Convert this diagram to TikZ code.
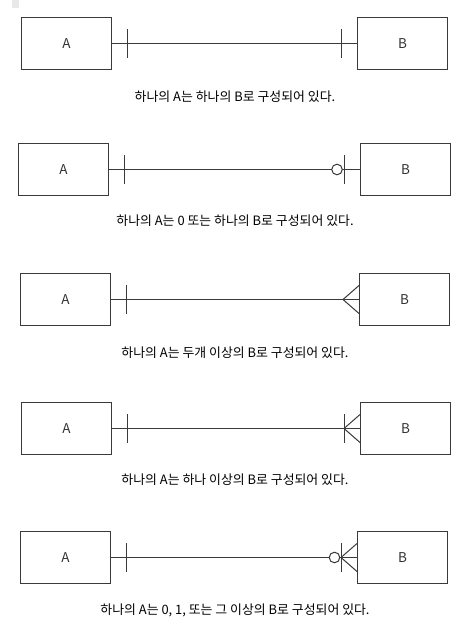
\documentclass[tikz,border=0pt]{standalone}
\usepackage{fontspec}
\setmainfont{Noto Sans CJK KR}
\definecolor{linegray}{HTML}{3A3A3A}
\definecolor{textgray}{HTML}{333333}
\begin{document}
\begin{tikzpicture}[x=1pt,y=-1pt,
  ent/.style={draw=linegray,line width=1pt,minimum width=90pt,minimum height=52pt,inner sep=0pt,font=\fontsize{13.5}{15}\selectfont,text=textgray},
  rel/.style={draw=linegray,line width=1pt},
  opt/.style={circle,draw=linegray,line width=1pt,fill=white,minimum size=10.6pt,inner sep=0pt},
  lbl/.style={font=\fontsize{12.9}{15}\selectfont,text=black,inner sep=0pt}]
\useasboundingbox (0,0) rectangle (475,631);
\fill[gray!18] (12,0) rectangle (19,8);
% Row 1: one to one
\node[ent] (a1) at (66.5,43.5) {A};
\node[ent] (b1) at (402.5,43.5) {B};
\draw[rel] (a1.east) -- (b1.west);
\coordinate (ta1) at ([xshift=15pt]a1.east);
\coordinate (tb1) at ([xshift=-16pt]b1.west);
\draw[rel] ([yshift=14.5pt]ta1) -- ([yshift=-14.5pt]ta1);
\draw[rel] ([yshift=14.5pt]tb1) -- ([yshift=-14.5pt]tb1);
\node[lbl] (l1) at (235,97) {하나의 A는 하나의 B로 구성되어 있다.};
% Row 2: zero or one
\node[ent] (a2) at (63.5,169.5) {A};
\node[ent] (b2) at (405.5,169.5) {B};
\draw[rel] (a2.east) -- (b2.west);
\coordinate (ta2) at ([xshift=15pt]a2.east);
\coordinate (tb2) at ([xshift=-16pt]b2.west);
\draw[rel] ([yshift=14.5pt]ta2) -- ([yshift=-14.5pt]ta2);
\draw[rel] ([yshift=14.5pt]tb2) -- ([yshift=-14.5pt]tb2);
\node[opt] (o2) at ([xshift=-23pt]b2.west) {};
\node[lbl] (l2) at (235,221) {하나의 A는 0 또는 하나의 B로 구성되어 있다.};
% Row 3: many
\node[ent] (a3) at (65.5,299.5) {A};
\node[ent] (b3) at (404.5,299.5) {B};
\draw[rel] (a3.east) -- (b3.west);
\coordinate (ta3) at ([xshift=15pt]a3.east);
\coordinate (cb3) at ([xshift=-16pt]b3.west);
\draw[rel] ([yshift=14.5pt]ta3) -- ([yshift=-14.5pt]ta3);
\draw[rel] ([yshift=14pt]b3.west) -- (cb3) -- ([yshift=-14pt]b3.west);
\node[lbl] (l3) at (235,353) {하나의 A는 두개 이상의 B로 구성되어 있다.};
% Row 4: one or many
\node[ent] (a4) at (66.5,428.5) {A};
\node[ent] (b4) at (405.5,428.5) {B};
\draw[rel] (a4.east) -- (b4.west);
\coordinate (ta4) at ([xshift=15pt]a4.east);
\coordinate (cb4) at ([xshift=-16pt]b4.west);
\draw[rel] ([yshift=14.5pt]ta4) -- ([yshift=-14.5pt]ta4);
\draw[rel] ([yshift=14.5pt]cb4) -- ([yshift=-14.5pt]cb4);
\draw[rel] ([yshift=14pt]b4.west) -- (cb4) -- ([yshift=-14pt]b4.west);
\node[lbl] (l4) at (235,480) {하나의 A는 하나 이상의 B로 구성되어 있다.};
% Row 5: zero or many
\node[ent] (a5) at (65.5,557.5) {A};
\node[ent] (b5) at (402.5,557.5) {B};
\draw[rel] (a5.east) -- (b5.west);
\coordinate (ta5) at ([xshift=15pt]a5.east);
\coordinate (cb5) at ([xshift=-16pt]b5.west);
\draw[rel] ([yshift=14.5pt]ta5) -- ([yshift=-14.5pt]ta5);
\node[opt] (o5) at ([xshift=-22.5pt]b5.west) {};
\draw[rel] ([yshift=14.5pt]cb5) -- ([yshift=-14.5pt]cb5);
\draw[rel] ([yshift=14pt]b5.west) -- (cb5) -- ([yshift=-14pt]b5.west);
\node[lbl] (l5) at (235,610) {하나의 A는 0, 1, 또는 그 이상의 B로 구성되어 있다.};
\end{tikzpicture}
\end{document}
